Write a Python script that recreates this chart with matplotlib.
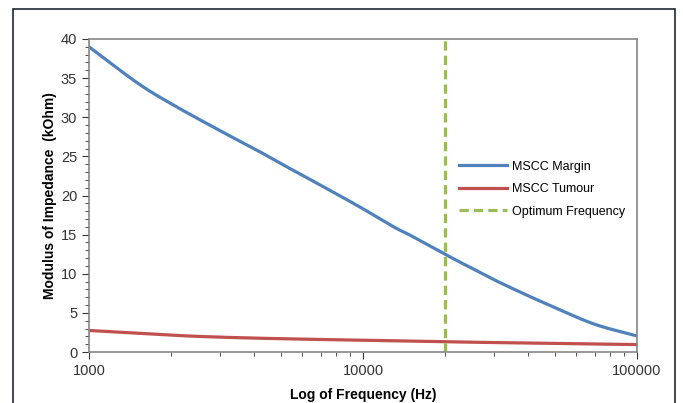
import matplotlib
matplotlib.use('Agg')
import matplotlib.pyplot as plt
import matplotlib.patches as patches
from matplotlib.ticker import FixedLocator, NullFormatter, MultipleLocator, FuncFormatter
import numpy as np

freq = [1000, 1500, 2000, 3000, 4000, 5000, 6000, 8000, 10000, 13000,
        15000, 20000, 25000, 30000, 40000, 50000, 70000, 100000]
margin = [39.0, 34.4, 31.7, 28.3, 26.0, 24.1, 22.6, 20.2, 18.3, 15.95,
          14.85, 12.45, 10.7, 9.25, 7.2, 5.7, 3.55, 2.05]

freq_t = [1000, 2000, 3000, 5000, 10000, 20000, 50000, 100000]
tumour = [2.75, 2.15, 1.9, 1.7, 1.5, 1.3, 1.1, 0.95]

opt_freq = 20000

blue = '#4F81BD'
red = '#C0504D'
green = '#9BBB59'
grey = '#868686'


def smooth(x, y, n=30):
    # catmull-rom through the points, in log-x, like excel's smoothed lines
    lx = np.log10(x)
    y = np.asarray(y, float)
    px = np.concatenate([[2 * lx[0] - lx[1]], lx, [2 * lx[-1] - lx[-2]]])
    py = np.concatenate([[2 * y[0] - y[1]], y, [2 * y[-1] - y[-2]]])
    ox, oy = [], []
    for i in range(1, len(px) - 2):
        t = np.linspace(0, 1, n, endpoint=False)
        for p, out in ((px, ox), (py, oy)):
            p0, p1, p2, p3 = p[i - 1], p[i], p[i + 1], p[i + 2]
            out.extend(0.5 * (2 * p1 + (p2 - p0) * t
                              + (2 * p0 - 5 * p1 + 4 * p2 - p3) * t ** 2
                              + (3 * p1 - p0 - 3 * p2 + p3) * t ** 3))
    ox.append(lx[-1])
    oy.append(y[-1])
    return 10 ** np.array(ox), np.array(oy)


plt.rcParams['font.family'] = ['Liberation Sans', 'DejaVu Sans']

fig = plt.figure(figsize=(6.83, 4.03), dpi=100)
W, H = 683, 403
ax = fig.add_axes([89 / W, 1 - 352 / H, (637 - 89) / W, (352 - 39) / H])

ax.plot(*smooth(freq, margin), color=blue, lw=2.3, label='MSCC Margin')
ax.plot(*smooth(freq_t, tumour), color=red, lw=2.3, label='MSCC Tumour')
ax.axvline(opt_freq, color=green, lw=2.3, dashes=(2.9, 1.6), label='Optimum Frequency')

ax.set_xscale('log')
ax.set_xlim(1000, 100000)
ax.set_ylim(0, 40)
ax.xaxis.set_major_locator(FixedLocator([1000, 10000, 100000]))
ax.xaxis.set_major_formatter(FuncFormatter(lambda v, p: '%d' % v))
ax.xaxis.set_minor_formatter(NullFormatter())
ax.yaxis.set_major_locator(MultipleLocator(5))
ax.yaxis.set_minor_locator(MultipleLocator(1))

for s in ax.spines.values():
    s.set_color(grey)
    s.set_linewidth(1.2)
ax.tick_params(which='both', direction='out', color='#333333', labelsize=10.5, labelcolor='#333333')
ax.tick_params(which='major', length=5)
ax.tick_params(which='minor', length=3)

ax.set_xlabel('Log of Frequency (Hz)', fontsize=10, fontweight='bold', labelpad=7)
ax.set_ylabel('Modulus of Impedance  (kOhm)', fontsize=10, fontweight='bold', labelpad=3)

ax.legend(loc='center left', bbox_to_anchor=(0.655, 0.52), frameon=False,
          fontsize=9, handlelength=3.8, labelspacing=0.85, handletextpad=0.4)

# outer chart border
fig.patches.append(patches.Rectangle((13 / W, -0.05), (675 - 13) / W, 1.05 - 9 / H,
                                     transform=fig.transFigure, fill=False,
                                     edgecolor='#1f2838', lw=1.2))

fig.savefig('out.png', dpi=100)
